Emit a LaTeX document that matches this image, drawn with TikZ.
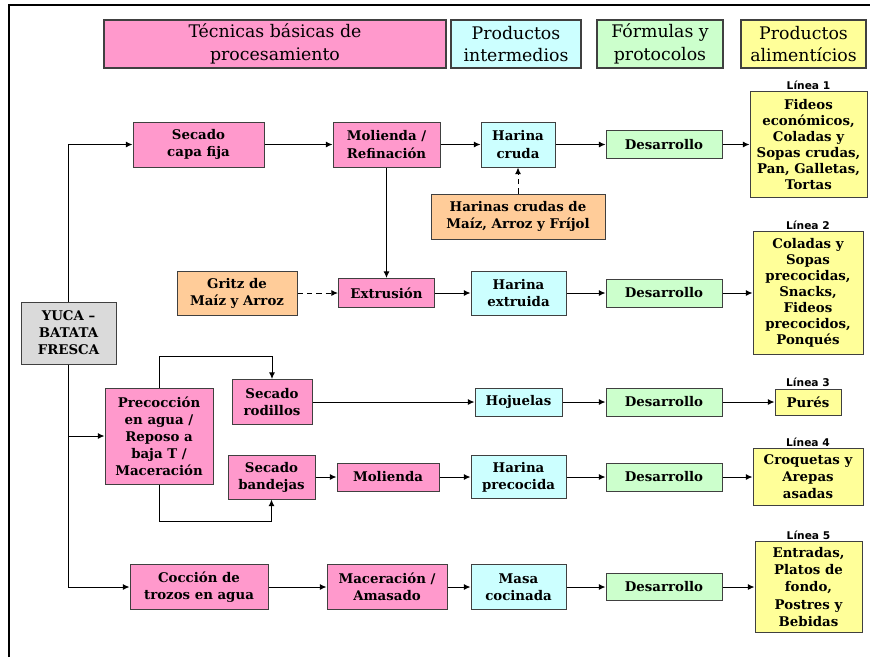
\documentclass[tikz,border=0pt]{standalone}
\usepackage{fontspec}
\setmainfont{DejaVu Serif}
\setsansfont{DejaVu Sans}
\usetikzlibrary{arrows.meta,positioning}
\definecolor{rosa}{HTML}{FF99CC}
\definecolor{celeste}{HTML}{CCFFFF}
\definecolor{verde}{HTML}{CCFFCC}
\definecolor{amarillo}{HTML}{FFFF99}
\definecolor{naranja}{HTML}{FFCC99}
\definecolor{gris}{HTML}{DADADA}
\tikzset{
  wh/.style 2 args={minimum width=#1*0.75pt,minimum height=#2*0.75pt},
  caja/.style={draw=black!75,line width=0.75pt,align=center,inner sep=1pt,
    font=\fontsize{10}{12.8}\selectfont\bfseries},
  tec/.style={caja,fill=rosa},
  inter/.style={caja,fill=celeste},
  form/.style={caja,fill=verde},
  prod/.style={caja,fill=amarillo},
  insumo/.style={caja,fill=naranja},
  apretado/.style={font=\fontsize{10}{12}\selectfont\bfseries},
  cab/.style={draw=black!75,line width=1.1pt,align=center,inner sep=1pt,
    font=\fontsize{13}{17}\selectfont},
  linea/.style={inner sep=1pt,font=\sffamily\bfseries\fontsize{8}{9}\selectfont},
  flecha/.style={-{Latex[length=5pt,width=4.5pt]},line width=0.75pt},
  guia/.style={flecha,dash pattern=on 4pt off 3pt}
}

\begin{document}
\begin{tikzpicture}[x=0.75pt,y=-0.75pt]
  \useasboundingbox (0,0) rectangle (870,657);
  \draw[line width=1.7pt] (9,657) -- (9,5) -- (870,5);

  % encabezados
  \node[cab,fill=rosa,wh={342}{48}]     (hTec) at (275,44) {Técnicas básicas de\\procesamiento};
  \node[cab,fill=celeste,wh={130}{48}]  (hInt) at (516,44) {Productos\\intermedios};
  \node[cab,fill=verde,wh={126}{48}]    (hFor) at (660,44) {Fórmulas y\\protocolos};
  \node[cab,fill=amarillo,wh={125}{48}] (hAli) at (803.5,44) {Productos\\alimentícios};

  \node[caja,fill=gris,wh={95}{62}] (yuca) at (68.5,333) {YUCA –\\BATATA\\FRESCA};

  % linea 1
  \node[tec,wh={131}{45}]    (sCapa)  at (198.5,144.5) {Secado\\capa fija};
  \node[tec,wh={107}{45}]    (molRef) at (386.5,144.5) {Molienda /\\Refinación};
  \node[inter,wh={74}{45}]   (hCruda) at (518,144.5)   {Harina\\cruda};
  \node[form,wh={116}{28}]   (des1)   at (664,144.5)   {Desarrollo};
  \node[prod,apretado,wh={117}{106}] (lin1) at (808.5,144.5) {Fideos\\económicos,\\Coladas y\\Sopas crudas,\\Pan, Galletas,\\Tortas};
  \node[insumo,wh={174}{45}] (harCru) at (518,216.5)   {Harinas crudas de\\Maíz, Arroz y Fríjol};

  % linea 2
  \node[insumo,wh={120}{44}] (gritz) at (237,293)    {Gritz de\\Maíz y Arroz};
  \node[tec,wh={96}{29}]     (extr)  at (386.5,293)  {Extrusión};
  \node[inter,wh={95}{44}]   (hExt)  at (518.5,293)  {Harina\\extruida};
  \node[form,wh={116}{28}]   (des2)  at (664,293)    {Desarrollo};
  \node[prod,apretado,wh={110}{123}] (lin2) at (808,293) {Coladas y\\Sopas\\precocidas,\\Snacks,\\Fideos\\precocidos,\\Ponqués};

  % lineas 3 y 4
  \node[tec,wh={108}{96}]  (precoc) at (159,436)   {Precocción\\en agua /\\Reposo a\\baja T /\\Maceración};
  \node[tec,wh={80}{45}]   (sRod)   at (272,402)   {Secado\\rodillos};
  \node[inter,wh={87}{28}] (hoj)    at (518.5,402) {Hojuelas};
  \node[form,wh={116}{28}] (des3)   at (664,402)   {Desarrollo};
  \node[prod,wh={66}{26}]  (pures)  at (808,402)   {Purés};

  \node[tec,wh={87}{44}]   (sBan) at (271.5,477) {Secado\\bandejas};
  \node[tec,wh={102}{28}]  (mol)  at (388,477)   {Molienda};
  \node[inter,wh={95}{43}] (hPre) at (518.5,477) {Harina\\precocida};
  \node[form,wh={116}{28}] (des4) at (664,477)   {Desarrollo};
  \node[prod,wh={110}{57}] (lin4) at (808,477)   {Croquetas y\\Arepas\\asadas};

  % linea 5
  \node[tec,wh={138}{45}]   (coc)  at (199,587)   {Cocción de\\trozos en agua};
  \node[tec,wh={120}{45}]   (macA) at (387,587)   {Maceración /\\Amasado};
  \node[inter,wh={95}{45}]  (masa) at (518.5,587) {Masa\\cocinada};
  \node[form,wh={116}{27}]  (des5) at (664,587)   {Desarrollo};
  \node[prod,wh={107}{91}]  (lin5) at (808.5,587) {Entradas,\\Platos de\\fondo,\\Postres y\\Bebidas};

  \node[linea,above=0pt of lin1]  (r1) {Línea 1};
  \node[linea,above=0pt of lin2]  (r2) {Línea 2};
  \node[linea,above=0pt of pures] (r3) {Línea 3};
  \node[linea,above=0pt of lin4]  (r4) {Línea 4};
  \node[linea,above=0pt of lin5]  (r5) {Línea 5};

  \draw[flecha] (yuca.north) |- (sCapa.west);
  \draw[flecha] (yuca.south) |- (precoc.west);
  \draw[flecha] (yuca.south) |- (coc.west);

  \draw[flecha] (sCapa) -- (molRef);
  \draw[flecha] (molRef) -- (hCruda);
  \draw[flecha] (hCruda) -- (des1);
  \draw[flecha] (des1) -- (lin1);
  \draw[guia] (harCru) -- (hCruda);
  \draw[flecha] (molRef) -- (extr);

  \draw[guia] (gritz) -- (extr);
  \draw[flecha] (extr) -- (hExt);
  \draw[flecha] (hExt) -- (des2);
  \draw[flecha] (des2) -- (lin2);

  \draw[flecha] (precoc.north) -- ++(0,-31) -| (sRod.north);
  \draw[flecha] (sRod) -- (hoj);
  \draw[flecha] (hoj) -- (des3);
  \draw[flecha] (des3) -- (pures);

  \draw[flecha] (precoc.south) -- ++(0,37) -| (sBan.south);
  \draw[flecha] (sBan) -- (mol);
  \draw[flecha] (mol) -- (hPre);
  \draw[flecha] (hPre) -- (des4);
  \draw[flecha] (des4) -- (lin4);

  \draw[flecha] (coc) -- (macA);
  \draw[flecha] (macA) -- (masa);
  \draw[flecha] (masa) -- (des5);
  \draw[flecha] (des5) -- (lin5);
\end{tikzpicture}
\end{document}
